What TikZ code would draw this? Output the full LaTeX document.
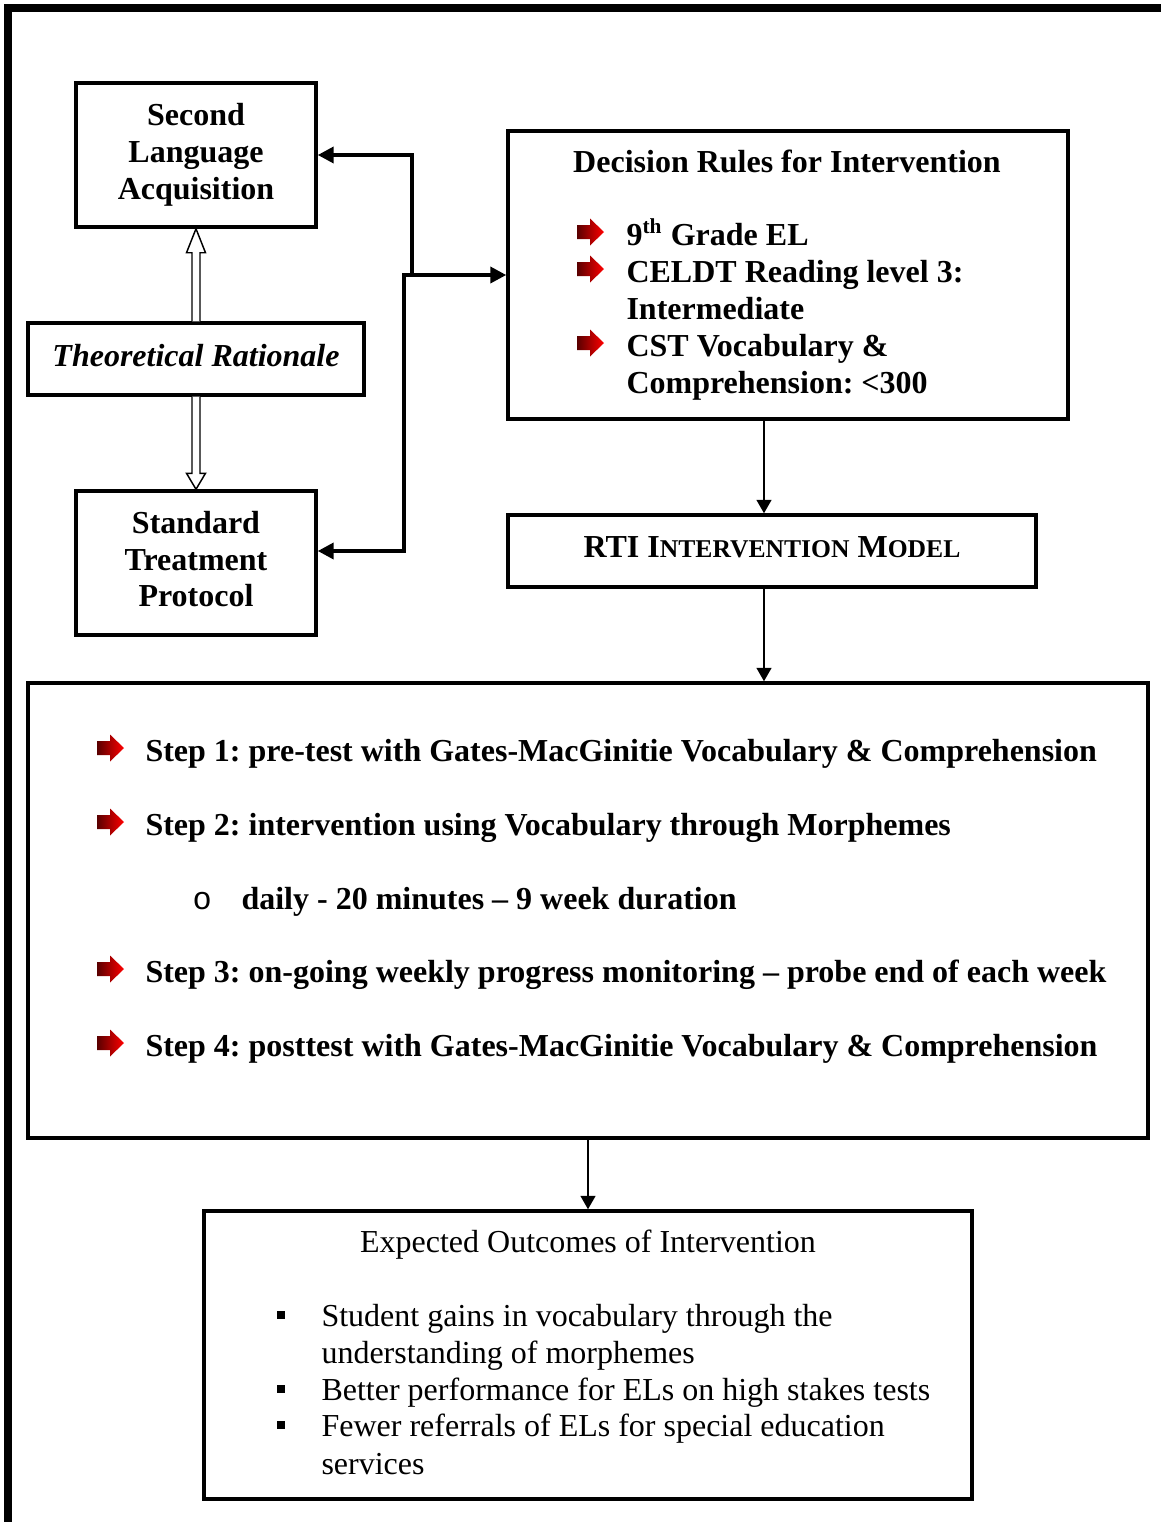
\documentclass[tikz,border=0pt]{standalone}
\usepackage{fontspec}
\setmainfont{Liberation Serif}
\newfontfamily\bulletfont{Liberation Mono}
\usetikzlibrary{arrows.meta,calc}

\tikzset{
  box/.style={draw, line width=1.3pt, inner sep=0pt, align=center, font=\bfseries},
  sz/.style 2 args={minimum width=#1*0.375pt, minimum height=#2*0.375pt},
  txt/.style={anchor=base west, inner sep=0pt, font=\bfseries},
  plain/.style={anchor=base west, inner sep=0pt, font=\mdseries},
  link/.style={line width=1.4pt, -{Triangle[length=6pt,width=6pt]}},
  thinlink/.style={line width=0.75pt, -{Triangle[length=5pt,width=5.5pt]}},
  hollow/.style={draw, line width=0.55pt, fill=white},
  redbullet/.pic={
    \shade[left color=red!35!black, right color=red]
      (0,-7) -- (13,-7) -- (13,-13.5) -- (27,0) -- (13,13.5) -- (13,7) -- (0,7) -- cycle;
  },
  sqbullet/.pic={\fill (-4,-4) rectangle (4,4);}
}

\begin{document}
\fontsize{12}{13.8}\selectfont\frenchspacing
\begin{tikzpicture}[x=0.375pt, y=-0.375pt]
\useasboundingbox (0,0) rectangle (1161,1522);
% page frame
\draw[line width=3pt] (8,1522) -- (8,7.5) -- (1161,7.5);

% left column
\node[box, sz={240}{144}] (sla) at (196,155) {Second\\Language\\Acquisition};
\node[box, sz={336}{72}, text depth=3pt, font=\bfseries\itshape] (tr) at (196,359) {Theoretical Rationale};
\node[box, sz={240}{144}, text depth=3pt] (stp) at (196,563) {Standard\\Treatment\\Protocol};

% right column
\node[box, sz={560}{288}] (dec) at (788,275) {};
\node[box, sz={528}{72}, text depth=3pt] (rti) at (772,551)
  {RTI I{\fontsize{9.6}{13.8}\selectfont NTERVENTION} M{\fontsize{9.6}{13.8}\selectfont ODEL}};
\node[box, sz={1120}{455}] (steps) at (588,910.5) {};
\node[box, sz={768}{288}] (out) at (588,1355) {};

% decision rules
\node[anchor=base, inner sep=0pt, font=\bfseries] (dectitle) at (787,172) {Decision Rules for Intervention};
\pic at (577,232) {redbullet};
\node[txt] (d1) at (626,245) {9\textsuperscript{th} Grade EL};
\pic at (577,269) {redbullet};
\node[txt] (d2) at (626,282) {CELDT Reading level 3:};
\node[txt] (d3) at (626,319) {Intermediate};
\pic at (577,343) {redbullet};
\node[txt] (d4) at (626,356) {CST Vocabulary \&};
\node[txt] (d5) at (626,393) {Comprehension: <300};

% steps
\pic at (97,748) {redbullet};
\node[txt] (s1) at (145,761) {Step 1: pre-test with Gates-MacGinitie Vocabulary \& Comprehension};
\pic at (97,822) {redbullet};
\node[txt] (s2) at (145,835) {Step 2: intervention using Vocabulary through Morphemes};
\node[anchor=base west, inner sep=0pt, font=\bulletfont] (s2o) at (192,909) {o};
\node[txt] (s2a) at (241,909) {daily - 20 minutes – 9 week duration};
\pic at (97,969) {redbullet};
\node[txt] (s3) at (145,982) {Step 3: on-going weekly progress monitoring – probe end of each week};
\pic at (97,1043) {redbullet};
\node[txt] (s4) at (145,1056) {Step 4: posttest with Gates-MacGinitie Vocabulary \& Comprehension};

% expected outcomes
\node[anchor=base, inner sep=0pt] (otitle) at (588,1252) {Expected Outcomes of Intervention};
\pic at (281,1315) {sqbullet};
\node[plain] (o1) at (321,1326) {Student gains in vocabulary through the};
\node[plain] (o2) at (321,1363) {understanding of morphemes};
\pic at (281,1389) {sqbullet};
\node[plain] (o3) at (321,1400) {Better performance for ELs on high stakes tests};
\pic at (281,1425) {sqbullet};
\node[plain] (o4) at (321,1436) {Fewer referrals of ELs for special education};
\node[plain] (o5) at (321,1474) {services};

% connectors
\coordinate (j1) at (412,275);
\coordinate (j2) at (404,275);
\draw[link] (j1) |- (sla.east);
\draw[link, {Triangle[length=6pt,width=6pt]}-{Triangle[length=6pt,width=6pt]}]
  ($(stp.east)+(0,-12)$) -| (j2) -- (dec.west);
\draw[hollow] ($(tr.north)+(-4,0)$) -- ($(sla.south)+(-4,24)$) -- ($(sla.south)+(-9.5,24)$)
  -- (sla.south) -- ($(sla.south)+(9.5,24)$) -- ($(sla.south)+(4,24)$) -- ($(tr.north)+(4,0)$);
\draw[hollow] ($(tr.south)+(-4,0)$) -- ($(stp.north)+(-4,-16)$) -- ($(stp.north)+(-9.5,-16)$)
  -- (stp.north) -- ($(stp.north)+(9.5,-16)$) -- ($(stp.north)+(4,-16)$) -- ($(tr.south)+(4,0)$);
\draw[thinlink] (dec.south -| 764,0) -- (rti.north -| 764,0);
\draw[thinlink] (rti.south -| 764,0) -- (steps.north -| 764,0);
\draw[thinlink] (steps.south) -- (out.north);
\end{tikzpicture}
\end{document}
